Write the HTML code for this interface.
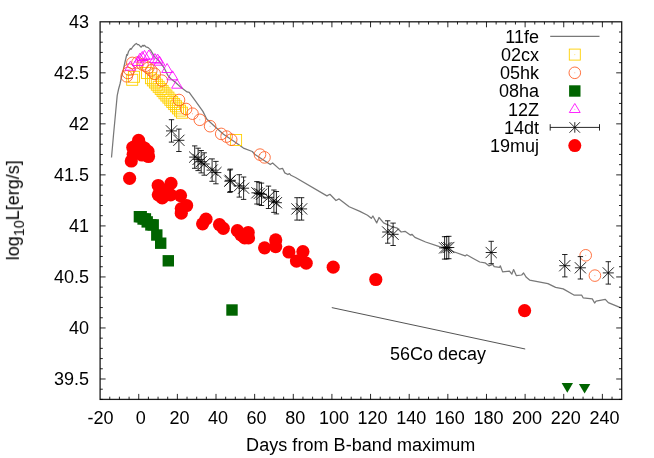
<!DOCTYPE html><html><head><meta charset="utf-8"><title>plot</title><style>html,body{margin:0;padding:0;background:#fff}svg{display:block}text{font-family:"Liberation Sans",sans-serif;fill:#000}</style></head><body>
<svg width="654" height="458" viewBox="0 0 654 458">
<defs><filter id="g" x="0" y="0" width="654" height="458" filterUnits="userSpaceOnUse"><feOffset dx="0" dy="0"/></filter></defs>
<rect width="654" height="458" fill="#fff"/>
<polyline fill="none" stroke="#787878" stroke-width="1.25" stroke-linejoin="round" points="111.5,157.5 113.5,135.0 115.6,112.8 117.2,95.6 118.6,89.0 120.0,84.0 121.5,77.0 123.4,69.4 125.0,62.0 126.8,54.5 127.4,55.3 128.5,51.5 130.4,48.6 131.0,49.4 133.0,46.5 135.2,44.3 136.4,43.4 137.5,44.6 138.7,44.6 141.0,47.2 142.9,45.3 143.6,46.0 144.4,45.3 145.9,46.9 148.2,47.6 150.5,49.9 154.4,56.6 159.8,61.9 164.1,67.8 167.8,75.3 170.5,78.5 175.3,82.2 181.2,87.6 187.1,91.9 189.2,92.4 191.9,96.2 195.2,100.7 202.9,111.4 206.7,119.0 215.9,127.5 223.5,134.3 235.7,142.5 243.4,148.1 252.3,151.5 255.0,154.6 270.3,164.5 272.6,163.0 279.5,169.1 282.5,168.3 284.8,172.9 287.9,174.5 289.4,173.6 290.9,175.2 295.5,177.5 326.9,195.9 329.9,194.3 336.0,200.5 339.1,198.9 349.2,206.8 359.9,211.4 367.5,215.2 371.3,218.3 372.9,216.0 376.7,222.9 379.0,217.5 383.6,222.9 392.0,226.7 397.3,228.2 401.2,232.0 405.0,231.3 410.3,235.1 411.9,234.3 414.9,237.4 425.6,242.0 439.4,246.6 445.3,248.2 454.5,252.0 465.2,255.9 466.7,254.8 472.8,258.2 479.7,262.0 485.0,262.8 488.9,265.8 492.7,264.3 494.2,266.6 499.6,267.3 500.3,265.8 502.6,271.9 509.5,271.2 511.8,274.2 513.6,269.6 516.4,275.7 521.7,275.0 523.6,273.0 526.3,277.3 529.6,280.1 547.9,283.6 555.6,287.4 563.2,288.9 573.9,295.0 581.6,295.0 583.1,297.8 592.3,298.9 594.6,303.0 596.1,301.2 605.3,299.3 608.3,302.7 619.8,307.3 621.8,308.0"/>
<g fill="none" stroke="#ffd000" stroke-width="0.9">
<rect x="126.7" y="74.3" width="11" height="11"/>
<rect x="128.5" y="71.3" width="11" height="11"/>
<rect x="141.5" y="67.5" width="11" height="11"/>
<rect x="145.5" y="72.7" width="11" height="11"/>
<rect x="147.4" y="74.9" width="11" height="11"/>
<rect x="149.4" y="77.0" width="11" height="11"/>
<rect x="151.3" y="79.2" width="11" height="11"/>
<rect x="153.2" y="81.3" width="11" height="11"/>
<rect x="155.2" y="83.5" width="11" height="11"/>
<rect x="157.1" y="85.6" width="11" height="11"/>
<rect x="159.0" y="87.8" width="11" height="11"/>
<rect x="160.9" y="90.0" width="11" height="11"/>
<rect x="162.9" y="92.1" width="11" height="11"/>
<rect x="164.8" y="94.3" width="11" height="11"/>
<rect x="166.7" y="96.4" width="11" height="11"/>
<rect x="168.7" y="98.6" width="11" height="11"/>
<rect x="170.6" y="100.8" width="11" height="11"/>
<rect x="172.5" y="102.9" width="11" height="11"/>
<rect x="174.5" y="105.1" width="11" height="11"/>
<rect x="176.4" y="107.2" width="11" height="11"/>
<rect x="230.6" y="134.5" width="11" height="11"/>
</g>
<g fill="none" stroke="#ff5a20" stroke-width="0.85">
<circle cx="126.7" cy="76.3" r="5.8"/>
<circle cx="127.9" cy="73.0" r="5.8"/>
<circle cx="129.3" cy="69.6" r="5.8"/>
<circle cx="132.3" cy="62.9" r="5.8"/>
<circle cx="137.5" cy="62.6" r="5.8"/>
<circle cx="142.5" cy="64.5" r="5.8"/>
<circle cx="145.4" cy="65.8" r="5.8"/>
<circle cx="148.3" cy="68.0" r="5.8"/>
<circle cx="151.3" cy="70.4" r="5.8"/>
<circle cx="154.7" cy="73.8" r="5.8"/>
<circle cx="161.7" cy="80.6" r="5.8"/>
<circle cx="179.0" cy="100.0" r="5.8"/>
<circle cx="186.1" cy="109.0" r="5.8"/>
<circle cx="192.5" cy="113.7" r="5.8"/>
<circle cx="199.8" cy="119.8" r="5.8"/>
<circle cx="210.1" cy="126.2" r="5.8"/>
<circle cx="221.2" cy="133.9" r="5.8"/>
<circle cx="226.6" cy="136.6" r="5.8"/>
<circle cx="231.2" cy="139.7" r="5.8"/>
<circle cx="260.0" cy="154.6" r="5.8"/>
<circle cx="264.5" cy="157.4" r="5.8"/>
<circle cx="585.7" cy="255.3" r="5.8"/>
<circle cx="594.9" cy="275.6" r="5.8"/>
</g>
<g stroke="none" fill-opacity="0.55">
<circle cx="179.0" cy="100.0" r="0.55" fill="#ff5a20"/>
<circle cx="186.1" cy="109.0" r="0.55" fill="#ff5a20"/>
<circle cx="192.5" cy="113.7" r="0.55" fill="#ff5a20"/>
<circle cx="199.8" cy="119.8" r="0.55" fill="#ff5a20"/>
<circle cx="210.1" cy="126.2" r="0.55" fill="#ff5a20"/>
<circle cx="221.2" cy="133.9" r="0.55" fill="#ff5a20"/>
<circle cx="226.6" cy="136.6" r="0.55" fill="#ff5a20"/>
<circle cx="231.2" cy="139.7" r="0.55" fill="#ff5a20"/>
<circle cx="260.0" cy="154.6" r="0.55" fill="#ff5a20"/>
<circle cx="264.5" cy="157.4" r="0.55" fill="#ff5a20"/>
<circle cx="585.7" cy="255.3" r="0.55" fill="#ff5a20"/>
<circle cx="594.9" cy="275.6" r="0.55" fill="#ff5a20"/>
<circle cx="236.1" cy="140" r="0.55" fill="#ffd000"/>
<circle cx="574.8" cy="54.6" r="0.55" fill="#ffd000"/>
<circle cx="574.8" cy="72.8" r="0.55" fill="#ff5a20"/>
<circle cx="574.8" cy="109.2" r="0.55" fill="#ff00ff"/>
</g>
<g fill="#006400" stroke="none">
<rect x="133.7" y="211.0" width="11.4" height="11.4"/>
<rect x="135.5" y="211.0" width="11.4" height="11.4"/>
<rect x="137.4" y="213.3" width="11.4" height="11.4"/>
<rect x="139.7" y="213.2" width="11.4" height="11.4"/>
<rect x="141.5" y="216.2" width="11.4" height="11.4"/>
<rect x="145.2" y="219.2" width="11.4" height="11.4"/>
<rect x="147.5" y="219.2" width="11.4" height="11.4"/>
<rect x="151.1" y="229.3" width="11.4" height="11.4"/>
<rect x="155.0" y="237.5" width="11.4" height="11.4"/>
<rect x="162.6" y="255.1" width="11.4" height="11.4"/>
<rect x="226.3" y="304.3" width="11.4" height="11.4"/>
<path d="M561.6 383.1 L573.0 383.1 L567.3 392.7 Z"/>
<path d="M578.9 384.0 L590.3 384.0 L584.6 393.6 Z"/>
</g>
<g fill="none" stroke="#ff00ff" stroke-width="0.85">
<path d="M130.4 61.2 L125.0 70.2 L135.8 70.2 Z"/>
<path d="M137.8 56.5 L132.4 65.5 L143.2 65.5 Z"/>
<path d="M140.0 53.1 L134.6 62.1 L145.4 62.1 Z"/>
<path d="M142.3 51.5 L136.9 60.5 L147.8 60.5 Z"/>
<path d="M144.5 50.4 L139.1 59.4 L149.9 59.4 Z"/>
<path d="M148.9 50.0 L143.5 59.0 L154.3 59.0 Z"/>
<path d="M155.0 53.6 L149.6 62.6 L160.4 62.6 Z"/>
<path d="M157.6 54.1 L152.2 63.1 L163.0 63.1 Z"/>
<path d="M159.5 56.2 L154.1 65.2 L164.9 65.2 Z"/>
<path d="M167.1 63.5 L161.7 72.5 L172.5 72.5 Z"/>
<path d="M172.5 70.8 L167.1 79.8 L177.9 79.8 Z"/>
<path d="M177.0 79.2 L171.6 88.2 L182.4 88.2 Z"/>
</g>
<g fill="none" stroke="#000" stroke-width="0.85">
<path d="M171.5 119.7V142.1M168.8 119.7h5.4M168.8 142.1h5.4M166.0 130.9h11.0M165.9 125.3l11.2 11.2M165.9 136.5l11.2 -11.2"/>
<path d="M178.9 129.1V151.5M176.2 129.1h5.4M176.2 151.5h5.4M173.4 140.3h11.0M173.3 134.7l11.2 11.2M173.3 145.9l11.2 -11.2"/>
<path d="M194.7 145.9V168.3M192.0 145.9h5.4M192.0 168.3h5.4M189.2 157.1h11.0M189.1 151.5l11.2 11.2M189.1 162.7l11.2 -11.2"/>
<path d="M198.1 148.2V170.6M195.4 148.2h5.4M195.4 170.6h5.4M192.6 159.4h11.0M192.5 153.8l11.2 11.2M192.5 165.0l11.2 -11.2"/>
<path d="M201.2 150.5V172.9M198.5 150.5h5.4M198.5 172.9h5.4M195.7 161.7h11.0M195.6 156.1l11.2 11.2M195.6 167.3l11.2 -11.2"/>
<path d="M204.2 152.8V175.2M201.5 152.8h5.4M201.5 175.2h5.4M198.7 164.0h11.0M198.6 158.4l11.2 11.2M198.6 169.6l11.2 -11.2"/>
<path d="M212.1 158.9V181.3M209.4 158.9h5.4M209.4 181.3h5.4M206.6 170.1h11.0M206.5 164.5l11.2 11.2M206.5 175.7l11.2 -11.2"/>
<path d="M215.9 161.4V183.8M213.2 161.4h5.4M213.2 183.8h5.4M210.4 172.6h11.0M210.3 167.0l11.2 11.2M210.3 178.2l11.2 -11.2"/>
<path d="M230.4 169.1V191.5M227.7 169.1h5.4M227.7 191.5h5.4M224.9 180.3h11.0M224.8 174.7l11.2 11.2M224.8 185.9l11.2 -11.2"/>
<path d="M229.8 170.0V192.4M227.1 170.0h5.4M227.1 192.4h5.4M224.3 181.2h11.0M224.2 175.6l11.2 11.2M224.2 186.8l11.2 -11.2"/>
<path d="M239.3 174.7V197.1M236.6 174.7h5.4M236.6 197.1h5.4M233.8 185.9h11.0M233.7 180.3l11.2 11.2M233.7 191.5l11.2 -11.2"/>
<path d="M243.6 177.0V199.4M240.9 177.0h5.4M240.9 199.4h5.4M238.1 188.2h11.0M238.0 182.6l11.2 11.2M238.0 193.8l11.2 -11.2"/>
<path d="M256.9 181.6V204.0M254.2 181.6h5.4M254.2 204.0h5.4M251.4 192.8h11.0M251.3 187.2l11.2 11.2M251.3 198.4l11.2 -11.2"/>
<path d="M259.2 182.3V204.7M256.5 182.3h5.4M256.5 204.7h5.4M253.7 193.5h11.0M253.6 187.9l11.2 11.2M253.6 199.1l11.2 -11.2"/>
<path d="M261.5 183.1V205.5M258.8 183.1h5.4M258.8 205.5h5.4M256.0 194.3h11.0M255.9 188.7l11.2 11.2M255.9 199.9l11.2 -11.2"/>
<path d="M268.5 186.1V208.5M265.8 186.1h5.4M265.8 208.5h5.4M263.0 197.3h11.0M262.9 191.7l11.2 11.2M262.9 202.9l11.2 -11.2"/>
<path d="M273.9 190.0V212.4M271.2 190.0h5.4M271.2 212.4h5.4M268.4 201.2h11.0M268.3 195.6l11.2 11.2M268.3 206.8l11.2 -11.2"/>
<path d="M276.4 191.5V213.9M273.7 191.5h5.4M273.7 213.9h5.4M270.9 202.7h11.0M270.8 197.1l11.2 11.2M270.8 208.3l11.2 -11.2"/>
<path d="M297.0 197.7V220.1M294.3 197.7h5.4M294.3 220.1h5.4M291.5 208.9h11.0M291.4 203.3l11.2 11.2M291.4 214.5l11.2 -11.2"/>
<path d="M301.6 197.7V220.1M298.9 197.7h5.4M298.9 220.1h5.4M296.1 208.9h11.0M296.0 203.3l11.2 11.2M296.0 214.5l11.2 -11.2"/>
<path d="M387.7 220.8V243.2M385.0 220.8h5.4M385.0 243.2h5.4M382.2 232.0h11.0M382.1 226.4l11.2 11.2M382.1 237.6l11.2 -11.2"/>
<path d="M393.1 223.1V245.5M390.4 223.1h5.4M390.4 245.5h5.4M387.6 234.3h11.0M387.5 228.7l11.2 11.2M387.5 239.9l11.2 -11.2"/>
<path d="M444.6 236.7V259.1M441.9 236.7h5.4M441.9 259.1h5.4M439.1 247.9h11.0M439.0 242.3l11.2 11.2M439.0 253.5l11.2 -11.2"/>
<path d="M446.7 236.5V258.9M444.0 236.5h5.4M444.0 258.9h5.4M441.2 247.7h11.0M441.1 242.1l11.2 11.2M441.1 253.3l11.2 -11.2"/>
<path d="M448.8 236.3V258.7M446.1 236.3h5.4M446.1 258.7h5.4M443.3 247.5h11.0M443.2 241.9l11.2 11.2M443.2 253.1l11.2 -11.2"/>
<path d="M491.2 241.3V263.7M488.5 241.3h5.4M488.5 263.7h5.4M485.7 252.5h11.0M485.6 246.9l11.2 11.2M485.6 258.1l11.2 -11.2"/>
<path d="M564.8 254.5V276.9M562.1 254.5h5.4M562.1 276.9h5.4M559.3 265.7h11.0M559.2 260.1l11.2 11.2M559.2 271.3l11.2 -11.2"/>
<path d="M580.4 256.6V279.0M577.7 256.6h5.4M577.7 279.0h5.4M574.9 267.8h11.0M574.8 262.2l11.2 11.2M574.8 273.4l11.2 -11.2"/>
<path d="M608.3 261.7V284.1M605.6 261.7h5.4M605.6 284.1h5.4M602.8 272.9h11.0M602.7 267.3l11.2 11.2M602.7 278.5l11.2 -11.2"/>
</g>
<g fill="#ff0000" stroke="none">
<circle cx="129.6" cy="178.3" r="6.6"/>
<circle cx="131.3" cy="161.0" r="6.6"/>
<circle cx="132.8" cy="147.5" r="6.6"/>
<circle cx="135.5" cy="146.0" r="6.6"/>
<circle cx="138.6" cy="140.3" r="6.6"/>
<circle cx="141.5" cy="146.5" r="6.6"/>
<circle cx="144.4" cy="148.0" r="6.6"/>
<circle cx="148.0" cy="151.4" r="6.6"/>
<circle cx="148.5" cy="156.5" r="6.6"/>
<circle cx="138.0" cy="152.0" r="6.6"/>
<circle cx="142.0" cy="155.0" r="6.6"/>
<circle cx="133.2" cy="154.3" r="6.6"/>
<circle cx="158.2" cy="185.5" r="6.6"/>
<circle cx="158.3" cy="194.8" r="6.6"/>
<circle cx="162.2" cy="197.9" r="6.6"/>
<circle cx="171.0" cy="183.4" r="6.6"/>
<circle cx="170.6" cy="194.8" r="6.6"/>
<circle cx="165.0" cy="190.0" r="6.6"/>
<circle cx="180.5" cy="195.6" r="6.6"/>
<circle cx="186.6" cy="205.5" r="6.6"/>
<circle cx="181.3" cy="208.6" r="6.6"/>
<circle cx="181.3" cy="213.2" r="6.6"/>
<circle cx="206.0" cy="219.2" r="6.6"/>
<circle cx="202.6" cy="223.8" r="6.6"/>
<circle cx="219.5" cy="224.6" r="6.6"/>
<circle cx="223.3" cy="228.3" r="6.6"/>
<circle cx="237.4" cy="230.7" r="6.6"/>
<circle cx="240.9" cy="234.8" r="6.6"/>
<circle cx="244.7" cy="237.9" r="6.6"/>
<circle cx="248.2" cy="232.5" r="6.6"/>
<circle cx="248.5" cy="237.9" r="6.6"/>
<circle cx="264.6" cy="247.8" r="6.6"/>
<circle cx="275.7" cy="239.9" r="6.6"/>
<circle cx="275.7" cy="246.6" r="6.6"/>
<circle cx="288.9" cy="252.0" r="6.6"/>
<circle cx="302.9" cy="251.6" r="6.6"/>
<circle cx="296.5" cy="261.1" r="6.6"/>
<circle cx="306.2" cy="263.2" r="6.6"/>
<circle cx="333.2" cy="267.2" r="6.6"/>
<circle cx="375.8" cy="279.5" r="6.6"/>
<circle cx="524.6" cy="310.7" r="6.6"/>
</g>
<line x1="331.8" y1="307.6" x2="525.2" y2="349.0" stroke="#4a4a4a" stroke-width="0.95"/>
<g fill="none" stroke="#1c1c1c" stroke-width="1.3">
<rect x="100.1" y="21.8" width="521.6" height="377.6"/>
</g>
<path d="M109.76 399.4v-2.7M109.76 21.8v2.7M119.42 399.4v-2.7M119.42 21.8v2.7M129.08 399.4v-2.7M129.08 21.8v2.7M138.74 399.4v-5.5M138.74 21.8v5.5M148.40 399.4v-2.7M148.40 21.8v2.7M158.06 399.4v-2.7M158.06 21.8v2.7M167.71 399.4v-2.7M167.71 21.8v2.7M177.37 399.4v-5.5M177.37 21.8v5.5M187.03 399.4v-2.7M187.03 21.8v2.7M196.69 399.4v-2.7M196.69 21.8v2.7M206.35 399.4v-2.7M206.35 21.8v2.7M216.01 399.4v-5.5M216.01 21.8v5.5M225.67 399.4v-2.7M225.67 21.8v2.7M235.33 399.4v-2.7M235.33 21.8v2.7M244.99 399.4v-2.7M244.99 21.8v2.7M254.65 399.4v-5.5M254.65 21.8v5.5M264.31 399.4v-2.7M264.31 21.8v2.7M273.97 399.4v-2.7M273.97 21.8v2.7M283.63 399.4v-2.7M283.63 21.8v2.7M293.29 399.4v-5.5M293.29 21.8v5.5M302.94 399.4v-2.7M302.94 21.8v2.7M312.60 399.4v-2.7M312.60 21.8v2.7M322.26 399.4v-2.7M322.26 21.8v2.7M331.92 399.4v-5.5M331.92 21.8v5.5M341.58 399.4v-2.7M341.58 21.8v2.7M351.24 399.4v-2.7M351.24 21.8v2.7M360.90 399.4v-2.7M360.90 21.8v2.7M370.56 399.4v-5.5M370.56 21.8v5.5M380.22 399.4v-2.7M380.22 21.8v2.7M389.88 399.4v-2.7M389.88 21.8v2.7M399.54 399.4v-2.7M399.54 21.8v2.7M409.20 399.4v-5.5M409.20 21.8v5.5M418.86 399.4v-2.7M418.86 21.8v2.7M428.51 399.4v-2.7M428.51 21.8v2.7M438.17 399.4v-2.7M438.17 21.8v2.7M447.83 399.4v-5.5M447.83 21.8v5.5M457.49 399.4v-2.7M457.49 21.8v2.7M467.15 399.4v-2.7M467.15 21.8v2.7M476.81 399.4v-2.7M476.81 21.8v2.7M486.47 399.4v-5.5M486.47 21.8v5.5M496.13 399.4v-2.7M496.13 21.8v2.7M505.79 399.4v-2.7M505.79 21.8v2.7M515.45 399.4v-2.7M515.45 21.8v2.7M525.11 399.4v-5.5M525.11 21.8v5.5M534.77 399.4v-2.7M534.77 21.8v2.7M544.43 399.4v-2.7M544.43 21.8v2.7M554.09 399.4v-2.7M554.09 21.8v2.7M563.74 399.4v-5.5M563.74 21.8v5.5M573.40 399.4v-2.7M573.40 21.8v2.7M583.06 399.4v-2.7M583.06 21.8v2.7M592.72 399.4v-2.7M592.72 21.8v2.7M602.38 399.4v-5.5M602.38 21.8v5.5M612.04 399.4v-2.7M612.04 21.8v2.7M100.1 399.40h2.7M621.7 399.40h-2.7M100.1 389.19h2.7M621.7 389.19h-2.7M100.1 378.99h5.5M621.7 378.99h-5.5M100.1 368.78h2.7M621.7 368.78h-2.7M100.1 358.58h2.7M621.7 358.58h-2.7M100.1 348.37h2.7M621.7 348.37h-2.7M100.1 338.17h2.7M621.7 338.17h-2.7M100.1 327.96h5.5M621.7 327.96h-5.5M100.1 317.76h2.7M621.7 317.76h-2.7M100.1 307.55h2.7M621.7 307.55h-2.7M100.1 297.35h2.7M621.7 297.35h-2.7M100.1 287.14h2.7M621.7 287.14h-2.7M100.1 276.94h5.5M621.7 276.94h-5.5M100.1 266.73h2.7M621.7 266.73h-2.7M100.1 256.52h2.7M621.7 256.52h-2.7M100.1 246.32h2.7M621.7 246.32h-2.7M100.1 236.11h2.7M621.7 236.11h-2.7M100.1 225.91h5.5M621.7 225.91h-5.5M100.1 215.70h2.7M621.7 215.70h-2.7M100.1 205.50h2.7M621.7 205.50h-2.7M100.1 195.29h2.7M621.7 195.29h-2.7M100.1 185.09h2.7M621.7 185.09h-2.7M100.1 174.88h5.5M621.7 174.88h-5.5M100.1 164.68h2.7M621.7 164.68h-2.7M100.1 154.47h2.7M621.7 154.47h-2.7M100.1 144.26h2.7M621.7 144.26h-2.7M100.1 134.06h2.7M621.7 134.06h-2.7M100.1 123.85h5.5M621.7 123.85h-5.5M100.1 113.65h2.7M621.7 113.65h-2.7M100.1 103.44h2.7M621.7 103.44h-2.7M100.1 93.24h2.7M621.7 93.24h-2.7M100.1 83.03h2.7M621.7 83.03h-2.7M100.1 72.83h5.5M621.7 72.83h-5.5M100.1 62.62h2.7M621.7 62.62h-2.7M100.1 52.42h2.7M621.7 52.42h-2.7M100.1 42.21h2.7M621.7 42.21h-2.7M100.1 32.01h2.7M621.7 32.01h-2.7" fill="none" stroke="#000" stroke-width="0.85"/>
<line x1="550.2" y1="36.4" x2="599.5" y2="36.4" stroke="#787878" stroke-width="1.25"/>
<rect x="569.3" y="49.1" width="11" height="11" fill="none" stroke="#ffd000" stroke-width="0.9"/>
<circle cx="574.8" cy="72.8" r="5.8" fill="none" stroke="#ff5a20" stroke-width="0.85"/>
<rect x="569.1" y="85.3" width="11.4" height="11.4" fill="#006400"/>
<path d="M574.8 103.5 L569.3 112.5 L580.2 112.5 Z" fill="none" stroke="#ff00ff" stroke-width="0.85"/>
<path fill="none" stroke="#000" stroke-width="0.85" d="M550.2 127.4H599.5M550.2 124.2v6.4M599.5 124.2v6.4M574.8 122.2v10.5M569.5 122.2l10.5 10.5M569.5 132.7l10.5 -10.5"/>
<circle cx="574.8" cy="145.6" r="6.5" fill="#ff0000"/>
<g filter="url(#g)">
<text x="390" y="360" font-size="18">56Co decay</text>
<text x="100.5" y="424.2" font-size="18" text-anchor="middle">-20</text>
<text x="140.7" y="424.2" font-size="18" text-anchor="middle">0</text>
<text x="179.4" y="424.2" font-size="18" text-anchor="middle">20</text>
<text x="218.0" y="424.2" font-size="18" text-anchor="middle">40</text>
<text x="256.6" y="424.2" font-size="18" text-anchor="middle">60</text>
<text x="295.3" y="424.2" font-size="18" text-anchor="middle">80</text>
<text x="333.9" y="424.2" font-size="18" text-anchor="middle">100</text>
<text x="372.6" y="424.2" font-size="18" text-anchor="middle">120</text>
<text x="411.2" y="424.2" font-size="18" text-anchor="middle">140</text>
<text x="449.8" y="424.2" font-size="18" text-anchor="middle">160</text>
<text x="488.5" y="424.2" font-size="18" text-anchor="middle">180</text>
<text x="527.1" y="424.2" font-size="18" text-anchor="middle">200</text>
<text x="565.7" y="424.2" font-size="18" text-anchor="middle">220</text>
<text x="604.4" y="424.2" font-size="18" text-anchor="middle">240</text>
<text x="89.0" y="385.4" font-size="18" text-anchor="end">39.5</text>
<text x="89.0" y="334.4" font-size="18" text-anchor="end">40</text>
<text x="89.0" y="283.4" font-size="18" text-anchor="end">40.5</text>
<text x="89.0" y="232.4" font-size="18" text-anchor="end">41</text>
<text x="89.0" y="181.3" font-size="18" text-anchor="end">41.5</text>
<text x="89.0" y="130.3" font-size="18" text-anchor="end">42</text>
<text x="89.0" y="79.3" font-size="18" text-anchor="end">42.5</text>
<text x="89.0" y="28.2" font-size="18" text-anchor="end">43</text>
<text x="360.7" y="451.4" font-size="18" text-anchor="middle" textLength="229.2" lengthAdjust="spacing">Days from B-band maximum</text>
<text transform="translate(18.9,210.3) rotate(-90)" font-size="18" text-anchor="middle">log<tspan font-size="14.4" dy="5.4">10</tspan><tspan dy="-5.4">L[erg/s]</tspan></text>
<text x="539" y="42.8" font-size="18" text-anchor="end">11fe</text>
<text x="539" y="61.0" font-size="18" text-anchor="end">02cx</text>
<text x="539" y="79.2" font-size="18" text-anchor="end">05hk</text>
<text x="539" y="97.4" font-size="18" text-anchor="end">08ha</text>
<text x="539" y="115.6" font-size="18" text-anchor="end">12Z</text>
<text x="539" y="133.8" font-size="18" text-anchor="end">14dt</text>
<text x="539" y="152.0" font-size="18" text-anchor="end">19muj</text>
</g>
</svg></body></html>
